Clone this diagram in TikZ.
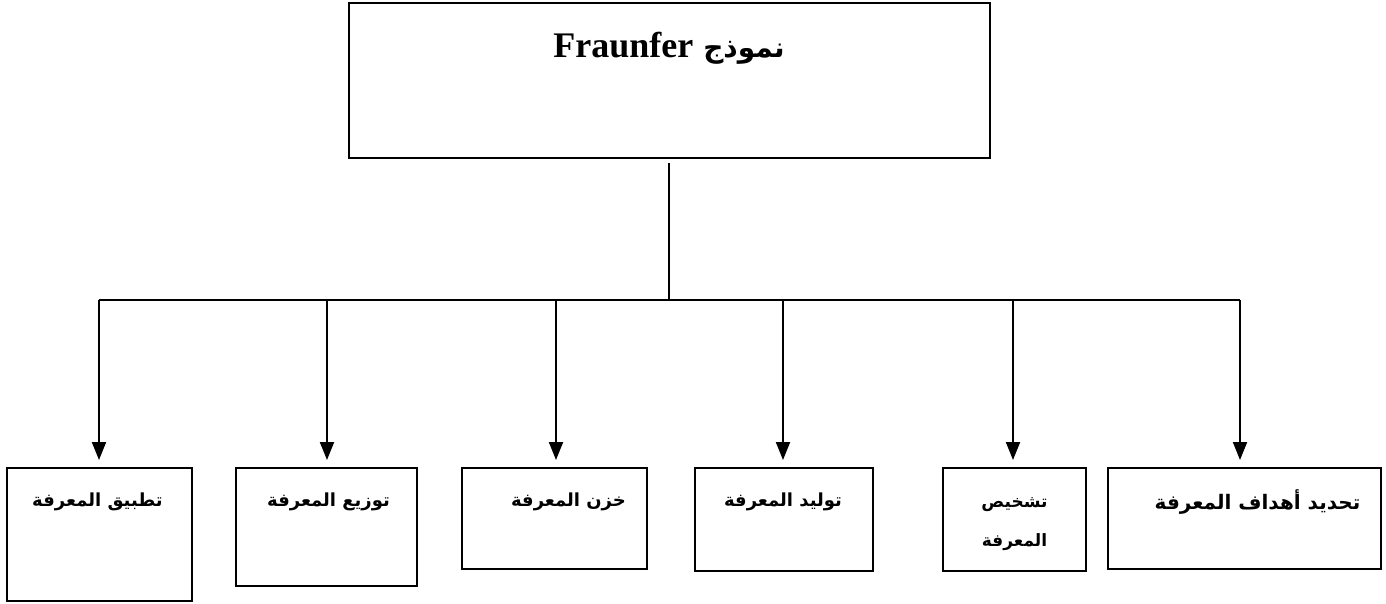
\documentclass[tikz,border=0pt]{standalone}
\usepackage{fontspec}
\setmainfont{Liberation Serif}
\newfontfamily\arabicfont[Script=Arabic]{DejaVu Sans}
\TeXXeTstate=1
\usetikzlibrary{arrows.meta}

\begin{document}
\begin{tikzpicture}[x=1pt,y=1pt,
  box/.style={draw, line width=2pt, inner sep=0pt},
  topbox/.style={draw, line width=2.6pt, inner sep=0pt},
  lbl/.style={inner sep=0pt, font=\arabicfont\bfseries\fontsize{18}{40}\selectfont, align=center},
  link/.style={line width=2pt},
  arrowlink/.style={line width=2pt, -{Triangle[length=18pt,width=14pt]}, shorten >=7pt}]

\useasboundingbox (0,0) rectangle (1386,603);

% head box
\node[topbox, minimum width=641pt, minimum height=155pt] (top) at (669.5,522.5) {};
\node[anchor=base, inner sep=0pt] (title) at (669,545)
  {\beginR{\arabicfont\bfseries\fontsize{28}{34}\selectfont نموذج}\hspace{10pt}\beginL{\bfseries\fontsize{36}{40}\selectfont Fraunfer}\endL\endR};

% stage boxes
\node[box, minimum width=185pt, minimum height=133pt] (b1) at (99.5,68.5) {};
\node[box, minimum width=181pt, minimum height=118pt] (b2) at (326.5,76) {};
\node[box, minimum width=185pt, minimum height=101pt] (b3) at (554.5,84.5) {};
\node[box, minimum width=178pt, minimum height=103pt] (b4) at (784,83.5) {};
\node[box, minimum width=143pt, minimum height=103pt] (b5) at (1014.5,83.5) {};
\node[box, minimum width=273pt, minimum height=101pt] (b6) at (1244.5,84.5) {};

% stage labels
\node[lbl] (t1) at (97.5,101) {\beginR تطبيق المعرفة\endR};
\node[lbl] (t2) at (328.5,101) {\beginR توزيع المعرفة\endR};
\node[lbl] (t3) at (568.5,101) {\beginR خزن المعرفة\endR};
\node[lbl] (t4) at (783,101) {\beginR توليد المعرفة\endR};
\node[lbl, font=\arabicfont\bfseries\fontsize{17}{39}\selectfont] (t5) at (1014.5,79) {\beginR تشخيص\endR\\\beginR المعرفة\endR};
\node[lbl, font=\arabicfont\bfseries\fontsize{20}{40}\selectfont] (t6) at (1257.5,101) {\beginR تحديد أهداف المعرفة\endR};

% bus
\coordinate (s) at (669,440);
\coordinate (hub) at (669,303);
\coordinate (j1) at (99,303);
\coordinate (j2) at (327,303);
\coordinate (j3) at (556,303);
\coordinate (j4) at (783,303);
\coordinate (j5) at (1013,303);
\coordinate (j6) at (1240,303);

\draw[link] (s) -- (hub);
\draw[link] (j1) -- (j6);
\draw[arrowlink] (j1) -- (j1 |- b1.north);
\draw[arrowlink] (j2) -- (j2 |- b2.north);
\draw[arrowlink] (j3) -- (j3 |- b3.north);
\draw[arrowlink] (j4) -- (j4 |- b4.north);
\draw[arrowlink] (j5) -- (j5 |- b5.north);
\draw[arrowlink] (j6) -- (j6 |- b6.north);
\end{tikzpicture}
\end{document}
